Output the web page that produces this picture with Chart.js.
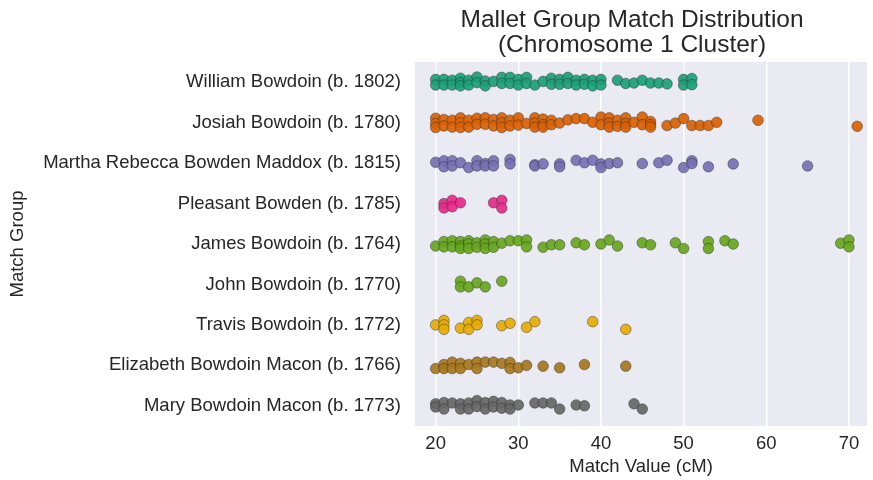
<!DOCTYPE html>
<html>
<head>
<meta charset="utf-8">
<script src="https://cdn.jsdelivr.net/npm/chart.js@4"></script>
<style>
  html, body { margin: 0; padding: 0; background: #ffffff; }
  #wrap { width: 873px; height: 480px; }
</style>
</head>
<body>
<div id="wrap"><canvas id="stripChart" width="873" height="480"></canvas></div>
<script>
/* =========================
   DATOS
==========================*/
const chartTitle = ["Mallet Group Match Distribution", "(Chromosome 1 Cluster)"];

const categories = [
  "William Bowdoin (b. 1802)",
  "Josiah Bowdoin (b. 1780)",
  "Martha Rebecca Bowden Maddox (b. 1815)",
  "Pleasant Bowden (b. 1785)",
  "James Bowdoin (b. 1764)",
  "John Bowdoin (b. 1770)",
  "Travis Bowdoin (b. 1772)",
  "Elizabeth Bowdoin Macon (b. 1766)",
  "Mary Bowdoin Macon (b. 1773)",
];

const xTicks = [20, 30, 40, 50, 60, 70];

// valores (cM)
const williamValues = [20,20,21,21,22,22,23,23,23,24,24,25,25,26,26,27,28,28,29,29,30,30,31,31,32,33,34,34,35,35,36,36,37,37,38,38,39,39,40,40,42,43,44,45,46,47,48,50,50,51,51];
const josiahValues = [20,20,20,21,21,22,22,23,23,23,24,24,25,25,26,26,27,27,28,28,28,29,29,30,30,31,32,32,32,33,33,33,34,34,35,36,37,38,39,40,40,41,41,41,42,42,43,43,43,44,45,45,46,46,46,48,49,50,51,52,53,54,59,71];
const marthaValues = [20,21,21,22,22,23,24,25,25,26,26,27,27,29,29,32,32,33,35,35,37,38,39,40,40,41,42,45,47,48,50,51,51,53,56,65];
const pleasantValues = [21,21,22,22,23,27,28,28];
const jamesValues = [20,21,21,22,22,23,23,23,24,24,24,25,25,26,26,26,27,27,28,29,30,31,31,33,34,35,37,38,40,41,42,45,46,49,50,53,53,55,56,69,70,70];
const johnValues = [23,23,24,25,26,28];
const travisValues = [20,21,21,21,23,24,24,25,25,28,29,31,32,39,43];
const elizabethValues = [20,21,21,22,22,23,23,24,25,25,26,27,28,29,29,30,31,33,35,38,43];
const maryValues = [20,20,21,21,22,23,23,24,24,25,25,26,26,27,27,28,28,29,29,30,32,33,34,35,37,38,44,45];

// desplazamiento vertical (jitter) de cada punto, en unidades de categoria
const williamJitter = [-0.07,0.07,-0.07,0.07,-0.05,0.07,-0.10,0.01,0.09,-0.05,0.07,-0.13,0.01,-0.03,0.09,-0.02,-0.12,0.03,-0.12,0.03,-0.07,0.07,-0.12,0.03,0.07,-0.02,-0.10,0.05,-0.07,0.05,-0.12,0.03,-0.05,0.07,-0.07,0.05,-0.05,0.09,-0.07,0.07,-0.05,0.03,0.02,-0.05,0.02,0.02,0.04,-0.07,0.07,-0.09,0.06];
const josiahJitter = [-0.11,0.02,0.12,-0.08,0.08,-0.06,0.11,-0.12,0,0.12,-0.06,0.11,-0.11,0.04,-0.12,0.04,-0.08,0.08,-0.12,0,0.12,-0.06,0.08,-0.12,0.06,0.02,-0.12,0.01,0.11,-0.09,0.05,0.11,-0.06,0.05,0.01,-0.07,-0.10,-0.10,-0.01,-0.14,0.05,-0.12,0.01,0.11,-0.06,0.09,-0.12,0.02,0.11,-0.01,-0.14,0.05,-0.03,0.05,0.11,0.07,0.01,-0.10,0.07,0.07,0.07,-0.01,-0.06,0.09];
const marthaJitter = [-0.02,-0.06,0.09,-0.06,0.07,-0.01,0.11,-0.06,0.07,0.01,0.07,-0.06,0.07,-0.09,0.02,0.04,0.07,0.02,0.02,0.09,-0.07,-0.01,-0.07,0.02,0.11,0.01,-0.01,0.01,-0.01,-0.07,0.11,-0.06,0.01,0.09,0.02,0.07];
const pleasantJitter = [0,0.11,-0.08,0.08,-0.02,-0.02,-0.08,0.11];
const jamesJitter = [0.05,-0.06,0.07,-0.08,0.07,-0.06,0.05,0.11,-0.08,0,0.11,-0.03,0.08,-0.10,0,0.11,-0.06,0.08,-0.02,-0.08,-0.08,-0.10,0.07,0.08,0.02,0.02,-0.03,0.02,0,-0.10,0.05,-0.03,0.02,-0.03,0.11,-0.06,0.11,-0.08,0,-0.02,-0.10,0.07];
const johnJitter = [-0.08,0.06,0.06,-0.04,0.06,-0.08];
const travisJitter = [0,-0.11,0,0.11,0.08,-0.06,0.11,-0.11,0,0.02,-0.04,0.06,-0.08,-0.08,0.11];
const elizabethJitter = [0.08,-0.02,0.08,-0.08,0.08,-0.05,0.08,-0.02,-0.08,0.08,-0.08,-0.08,-0.05,-0.07,0.08,0.06,0,0.02,0.06,-0.02,0.02];
const maryJitter = [-0.05,0.03,-0.08,0.08,-0.07,-0.05,0.08,-0.07,0.08,-0.13,0.02,-0.08,0.08,-0.11,0.03,-0.08,0.06,-0.02,0.08,-0.02,-0.07,-0.07,-0.07,0.08,-0.02,0,-0.05,0.08];

const groupValues = [williamValues, josiahValues, marthaValues, pleasantValues, jamesValues, johnValues, travisValues, elizabethValues, maryValues];
const groupJitter = [williamJitter, josiahJitter, marthaJitter, pleasantJitter, jamesJitter, johnJitter, travisJitter, elizabethJitter, maryJitter];

const colors = ["#1b9e77", "#d95f02", "#7570b3", "#e7298a", "#66a61e", "#66a61e", "#e6ab02", "#a6761d", "#666666"];

const fontFamily = "'Liberation Sans', Arial, sans-serif";
const textColor = "#262626";

/* =========================
   FONDO Y TITULO (estilo darkgrid)
==========================*/
const plotBackground = {
  id: "plotBackground",
  beforeDraw(chart) {
    const { ctx, chartArea } = chart;
    ctx.save();
    ctx.fillStyle = "#eaeaf2";
    ctx.fillRect(chartArea.left, chartArea.top, chartArea.right - chartArea.left, chartArea.bottom - chartArea.top);
    ctx.restore();
  },
  afterDraw(chart) {
    // titulo centrado un poco a la izquierda, como en el original
    const { ctx, chartArea } = chart;
    const cx = (chartArea.left + chartArea.right) / 2 - 9;
    ctx.save();
    ctx.fillStyle = textColor;
    ctx.font = `24.5px ${fontFamily}`;
    ctx.textAlign = "center";
    ctx.textBaseline = "middle";
    chartTitle.forEach((line, i) => {
      ctx.fillText(line, cx, 20 + i * 25);
    });
    ctx.restore();
  },
};

function withAlpha(hex, a) {
  const n = parseInt(hex.slice(1), 16);
  return `rgba(${(n >> 16) & 255},${(n >> 8) & 255},${n & 255},${a})`;
}

const datasets = categories.map((name, idx) => ({
  label: name,
  data: groupValues[idx].map((v, i) => ({ x: v, y: idx + (groupJitter[idx][i] || 0) })),
  backgroundColor: withAlpha(colors[idx], 0.92),
  borderColor: "rgba(45,45,45,0.75)",
  borderWidth: 0.6,
  pointRadius: 5.3,
}));

const baseFont = { family: fontFamily, size: 18.5 };

new Chart(document.getElementById("stripChart"), {
  type: "scatter",
  data: { datasets },
  options: {
    responsive: false,
    animation: false,
    layout: { padding: { left: 0, right: 0, top: 62, bottom: 0 } },
    plugins: {
      legend: { display: false },
      tooltip: { enabled: false },
      title: { display: false },
    },
    scales: {
      x: {
        type: "linear",
        min: 17.5,
        max: 72.2,
        afterBuildTicks: (scale) => {
          scale.ticks = xTicks.map((v) => ({ value: v }));
        },
        afterFit: (scale) => {
          scale.height = 54;
        },
        grid: { color: "#ffffff", lineWidth: 1.5, drawTicks: false },
        border: { display: false },
        ticks: { color: textColor, font: baseFont, padding: 7 },
        title: {
          display: true,
          text: "Match Value (cM)",
          color: textColor,
          font: baseFont,
          padding: { top: 0, bottom: 2 },
        },
      },
      y: {
        type: "linear",
        min: -0.5,
        max: 8.5,
        reverse: true,
        afterBuildTicks: (scale) => {
          scale.ticks = categories.map((c, i) => ({ value: i }));
        },
        afterFit: (scale) => {
          scale.width = 415;
        },
        grid: { display: false, drawTicks: false },
        border: { display: false },
        ticks: {
          color: textColor,
          font: baseFont,
          padding: 14,
          autoSkip: false,
          callback: (v) => categories[v],
        },
        title: {
          display: true,
          text: "Match Group",
          color: textColor,
          font: baseFont,
          padding: { top: 7, bottom: 0 },
        },
      },
    },
  },
  plugins: [plotBackground],
});
</script>
</body>
</html>
